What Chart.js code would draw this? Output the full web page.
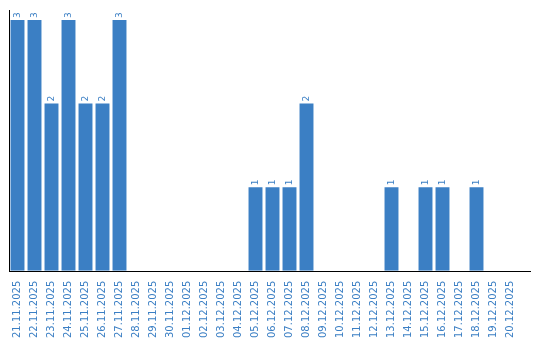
<!DOCTYPE html>
<html lang="en">
<head>
    <meta charset="UTF-8">
    <script src="https://cdn.jsdelivr.net/npm/chart.js@4.4.0/dist/chart.umd.min.js"></script>
    <title>Daily counts</title>
    <style>
        body { margin: 0; background: #fff; }
    </style>
</head>
<body>
    <canvas id="bar-chart" width="540" height="340"></canvas>

<script>

var labels = ["21.11.2025","22.11.2025","23.11.2025","24.11.2025","25.11.2025","26.11.2025","27.11.2025",
    "28.11.2025","29.11.2025","30.11.2025","01.12.2025","02.12.2025","03.12.2025","04.12.2025",
    "05.12.2025","06.12.2025","07.12.2025","08.12.2025","09.12.2025","10.12.2025","11.12.2025",
    "12.12.2025","13.12.2025","14.12.2025","15.12.2025","16.12.2025","17.12.2025","18.12.2025",
    "19.12.2025","20.12.2025"];
var counts = [3,3,2,3,2,2,3, 0,0,0,0,0,0,0, 1,1,1,2,0,0,0, 0,1,0,1,1,0,1, 0,0];

var blue = '#3b7fc4';

// draws the x axis line (a bit past the last category) and the value
// above each bar, rotated like the axis labels
var valueLabels = {
    id: 'valueLabels',
    afterDatasetsDraw: function(chart) {
        var ctx = chart.ctx;
        var area = chart.chartArea;
        var meta = chart.getDatasetMeta(0);
        var yLine = Math.round(area.bottom) + 0.5;
        ctx.save();
        ctx.strokeStyle = '#000';
        ctx.lineWidth = 1;
        ctx.beginPath();
        ctx.moveTo(area.left, yLine);
        ctx.lineTo(531, yLine);
        ctx.stroke();

        ctx.fillStyle = blue;
        ctx.font = '9px "DejaVu Sans"';
        meta.data.forEach(function(bar, i) {
            var v = counts[i];
            if (!v) return;
            ctx.save();
            ctx.translate(bar.x, bar.y - 2);
            ctx.rotate(-Math.PI / 2);
            ctx.textAlign = 'left';
            ctx.textBaseline = 'middle';
            ctx.fillText(String(v), 0, 0);
            ctx.restore();
        });
        ctx.restore();
    }
};

var bar_ctx = document.getElementById('bar-chart').getContext('2d');

var bar_chart = new Chart(bar_ctx, {
    type: 'bar',
    data: {
        labels: labels,
        datasets: [{
            data: counts,
            backgroundColor: blue,
            barPercentage: 0.82,
            categoryPercentage: 1.0
        }]
    },
    plugins: [valueLabels],
    options: {
        responsive: false,
        animation: false,
        layout: { padding: { left: 1, right: 21, top: 10 } },
        plugins: {
            legend: { display: false },
            tooltip: { enabled: false }
        },
        scales: {
            x: {
                grid: { display: false },
                border: { display: false },
                ticks: {
                    autoSkip: false,
                    minRotation: 90,
                    maxRotation: 90,
                    color: blue,
                    font: { family: 'DejaVu Sans', size: 10 },
                    padding: 2
                }
            },
            y: {
                min: 0,
                max: 3.12,
                grid: { display: false },
                border: { display: true, color: '#000', width: 1 },
                ticks: { display: false }
            }
        }
    }
});

</script>

</body>
</html>
